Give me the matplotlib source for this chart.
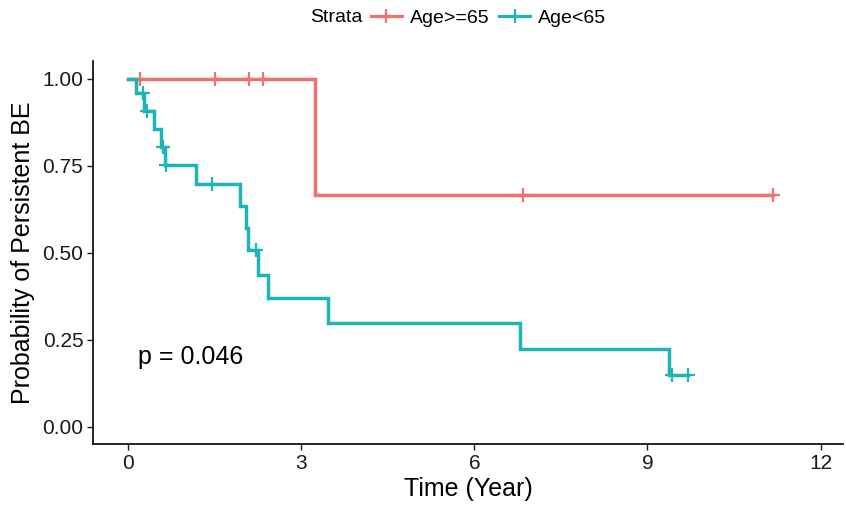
import matplotlib.pyplot as plt
from matplotlib.lines import Line2D
import numpy as np

plt.rcParams['font.family'] = ['Liberation Sans', 'DejaVu Sans']

# Kaplan-Meier step data
old_times = [0, 3.24, 11.18]
old_surv = [1.0, 0.667, 0.667]
old_censor = [0.2, 1.51, 2.1, 2.34, 6.85, 11.18]

young_times = [0, 0.13, 0.265, 0.44, 0.57, 0.64, 1.17, 1.94, 2.04, 2.07,
               2.25, 2.43, 3.47, 6.79, 9.37, 9.71]
young_surv = [1.0, 0.959, 0.907, 0.855, 0.804, 0.753, 0.698, 0.633, 0.572,
              0.509, 0.437, 0.371, 0.298, 0.223, 0.149, 0.149]
young_censor = [0.25, 0.33, 0.6, 0.66, 1.45, 2.22, 9.42, 9.71]

labels = ['Age>=65', 'Age<65']
colors = ['#EE736C', '#1DB5B7']
x_ticks = [0, 3, 6, 9, 12]
y_ticks = [0.0, 0.25, 0.5, 0.75, 1.0]
p_text = 'p = 0.046'


# Survival value at a given time from a step curve
def survAt(t, times, surv):
    idx = np.searchsorted(times, t, side='right') - 1
    return np.array(surv)[idx]


fig = plt.figure(figsize=(8.46, 5.08), dpi=100)
ax = fig.add_axes([0.110, 0.126, 0.8865, 0.753])

curves = [(old_times, old_surv, old_censor), (young_times, young_surv, young_censor)]
for (times, surv, cens), col in zip(curves, colors):
    ax.step(times, surv, where='post', color=col, lw=2.5, solid_joinstyle='miter')
    ax.plot(cens, survAt(cens, times, surv), ls='none', marker='+',
            markersize=10, markeredgewidth=1.6, color=col)

ax.text(0.17, 0.2, p_text, fontsize=18, va='center', ha='left')

ax.set_xlim(-0.61, 12.39)
ax.set_ylim(-0.05, 1.05)
ax.set_xticks(x_ticks)
ax.set_yticks(y_ticks)
ax.set_yticklabels([f'{v:.2f}' for v in y_ticks])
ax.tick_params(labelsize=15, colors='#1a1a1a', length=4, width=1, pad=3)
for s in ['top', 'right']:
    ax.spines[s].set_visible(False)
for s in ['left', 'bottom']:
    ax.spines[s].set_linewidth(1.2)
ax.set_xlabel('Time (Year)', fontsize=18, labelpad=3)
ax.set_ylabel('Probability of Persistent BE', fontsize=18, labelpad=5)

# legend across the top
fig.text(310 / 846, 1 - 17 / 508, 'Strata', fontsize=14, va='center', ha='left')
handles = [Line2D([], [], color=c, lw=2.3, marker='+', markersize=10,
                  markeredgewidth=1.6) for c in colors]
fig.legend(handles, labels, loc='center left', bbox_to_anchor=(363 / 846, 1 - 18 / 508),
           ncol=2, frameon=False, fontsize=14, handlelength=1.6, handletextpad=0.4,
           columnspacing=0.5, borderaxespad=0)

fig.savefig('out.png', dpi=100)
